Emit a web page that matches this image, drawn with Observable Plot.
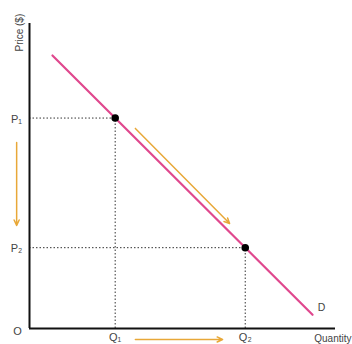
<!DOCTYPE html>
<html><head><meta charset="utf-8">
<script src="https://cdn.jsdelivr.net/npm/d3@7"></script>
<script src="https://cdn.jsdelivr.net/npm/@observablehq/plot@0.6"></script>
<style>body{margin:0;background:#fff}</style>
</head><body><div id="chart"></div>
<script>
// demand curve endpoints (quantity, price)
const demandQ = [0.75, 9.25];
const demandP = [8.95, 0.45];
// equilibrium points
const pointLabels = ["1", "2"];
const pointQ = [2.8, 7.05];
const pointP = [6.9, 2.65];
// movement arrows
const arrowX1 = [-0.42, 3.46, 3.46];
const arrowY1 = [6.1, -0.36, 6.56];
const arrowX2 = [-0.42, 6.31, 6.54];
const arrowY2 = [3.38, -0.36, 3.44];

const demand = demandQ.map((q, i) => ({q, p: demandP[i]}));
const pts = pointQ.map((q, i) => ({q, p: pointP[i], k: pointLabels[i]}));
const arrows = arrowX1.map((x1, i) => ({x1, y1: arrowY1[i], x2: arrowX2[i], y2: arrowY2[i]}));

const font = "'Liberation Sans', Helvetica, Arial, sans-serif";
const txt = "#444";
const sub = {"1": "₁", "2": "₂"};

const chart = Plot.plot({
  width: 352, height: 344,
  marginLeft: 29, marginRight: 17, marginTop: 23, marginBottom: 16,
  style: {fontFamily: font, background: "#fff", overflow: "visible"},
  x: {domain: [0, 10], axis: null},
  y: {domain: [0, 10], axis: null},
  marks: [
    // dotted guide lines
    Plot.ruleY(pts, {y: "p", x1: 0, x2: "q", stroke: "#333", strokeWidth: 1, strokeDasharray: "1.5,2"}),
    Plot.ruleX(pts, {x: "q", y1: 0, y2: "p", stroke: "#333", strokeWidth: 1, strokeDasharray: "1.5,2"}),
    // demand line
    Plot.line(demand, {x: "q", y: "p", stroke: "#e0488e", strokeWidth: 2.2}),
    // axes
    Plot.ruleX([0], {y1: 0, y2: 10, stroke: "#111", strokeWidth: 2}),
    Plot.ruleY([0], {x1: 0, x2: 10, stroke: "#111", strokeWidth: 2}),
    // points
    Plot.dot(pts, {x: "q", y: "p", r: 3.8, fill: "#000"}),
    // arrows
    Plot.arrow(arrows, {x1: "x1", y1: "y1", x2: "x2", y2: "y2", stroke: "#e8a838", strokeWidth: 1.5, headLength: 6, headAngle: 50}),
    // tick labels
    Plot.text(pts, {x: 0, y: "p", text: d => "P" + sub[d.k], dx: -13, dy: 1, fill: txt, fontSize: 11}),
    Plot.text(pts, {x: "q", y: 0, text: d => "Q" + sub[d.k], dy: 9, fill: txt, fontSize: 11}),
    Plot.text(["O"], {x: 0, y: 0, text: d => d, dx: -12, dy: 3, fill: txt, fontSize: 11}),
    Plot.text(["D"], {x: demandQ[1], y: demandP[1], text: d => d, dx: 9, dy: -7, fill: txt, fontSize: 10.5}),
    Plot.text(["Quantity"], {x: 10, y: 0, text: d => d, dy: 10, dx: 16, textAnchor: "end", fill: txt, fontSize: 10}),
    Plot.text(["Price ($)"], {x: -0.33, y: 9.7, text: d => d, rotate: -90, textAnchor: "middle", fill: txt, fontSize: 10})
  ]
});
document.getElementById("chart").append(chart);
</script>
</body></html>
